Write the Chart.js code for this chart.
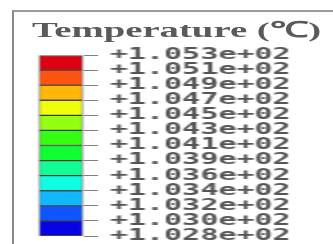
<!DOCTYPE html>
<html>
<head>
<meta charset="utf-8">
<script src="https://cdn.jsdelivr.net/npm/chart.js@4/dist/chart.umd.min.js"></script>
<style>
  html, body { margin: 0; padding: 0; background: #fff; overflow: hidden; width: 333px; height: 244px; }
  #wrap {
    position: absolute; left: 0; top: 0;
    width: 167px; height: 270px;
    transform: scaleX(2); transform-origin: 0 0;
  }
  #frame {
    position: absolute; left: 6px; top: 10px; width: 200px; height: 260px;
    border-left: 1.5px solid #8a8a8a; border-top: 2px solid #9a9a9a;
  }
  #title {
    position: absolute; left: 16px; top: 18.6px;
    font: bold 22px/22px "Liberation Serif", serif; color: #5a5a5a;
    white-space: nowrap;
    transform: scaleX(0.88); transform-origin: 0 0;
  }
  #legendChart { position: absolute; left: 0; top: 0; }
</style>
</head>
<body>
<div id="wrap">
  <div id="frame"></div>
  <div id="title">Temperature (℃)</div>
  <canvas id="legendChart" width="167" height="270"></canvas>
</div>
<script>
// contour levels, top to bottom
const levels = [105.3, 105.1, 104.9, 104.7, 104.5, 104.3, 104.1, 103.9, 103.6, 103.4, 103.2, 103.0, 102.8];
// band colours, top to bottom
const bandColors = [
  "#dc0010", "#ff5410", "#ffb808", "#f0ff08", "#94ff10", "#34ff10",
  "#10ff34", "#10ff94", "#10ffe4", "#10b8ff", "#1054ff", "#0404e4",
];

const fmt = (v) => "+" + (v / 100).toFixed(3) + "e+02";

let chart;

const initChart = () => {
  const ctx = document.getElementById("legendChart").getContext("2d");
  chart = new Chart(ctx, {
    type: "bar",
    data: {
      labels: [""],
      datasets: bandColors.map((c, i) => ({
        data: [[i, i + 1]],
        backgroundColor: c,
        borderColor: "rgba(20,20,20,0.75)",
        borderWidth: 1,
        borderSkipped: false,
        barPercentage: 1,
        categoryPercentage: 1,
        grouped: false,
      })),
    },
    options: {
      responsive: false,
      animation: false,
      layout: { padding: { left: 19.5, top: 55, bottom: 34, right: 0 } },
      plugins: { legend: { display: false }, tooltip: { enabled: false } },
      scales: {
        x: { display: false },
        y: {
          position: "right",
          reverse: true,
          min: 0,
          max: levels.length - 1,
          afterFit: (scale) => { scale.width = 167 - 41.5; },
          afterBuildTicks: (scale) => {
            scale.ticks = levels.map((_, i) => ({ value: i }));
          },
          border: { display: false },
          grid: {
            drawOnChartArea: false,
            tickLength: 7.5,
            color: "#808080",
            lineWidth: 1,
          },
          ticks: {
            autoSkip: false,
            padding: 6,
            color: "#555",
            font: { family: "DejaVu Sans Mono", size: 15, weight: "bold" },
            callback: (v) => fmt(levels[v]),
          },
        },
      },
    },
  });
};

initChart();
</script>
</body>
</html>
